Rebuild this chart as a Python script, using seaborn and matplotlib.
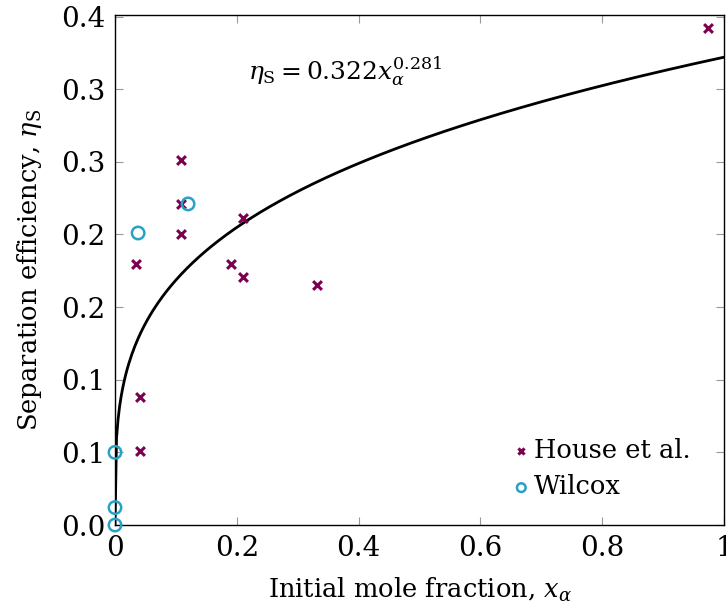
import numpy as np
import pandas as pd
import matplotlib.pyplot as plt
import seaborn as sns

# House et al. data
house_x = [0.973, 0.109, 0.109, 0.109, 0.035, 0.211, 0.191, 0.211, 0.331, 0.041, 0.041]
house_y = [0.342, 0.251, 0.221, 0.200, 0.180, 0.211, 0.180, 0.171, 0.165, 0.088, 0.051]

# Wilcox data
wilcox_x = [0.038, 0.120, 0.0, 0.0, 0.0]
wilcox_y = [0.201, 0.221, 0.050, 0.012, 0.0]

# fit: eta = a * x^b
fit_a = 0.322
fit_b = 0.281

x_ticks = [0, 0.2, 0.4, 0.6, 0.8, 1]
x_tick_labels = ['0', '0.2', '0.4', '0.6', '0.8', '1']
y_ticks = [0, 0.05, 0.1, 0.15, 0.2, 0.25, 0.3, 0.35]
y_tick_labels = ['0.0', '0.1', '0.1', '0.2', '0.2', '0.3', '0.3', '0.4']

purple = '#7d0050'
cyan = '#27a2c6'


def main():
    sns.set_style('ticks')
    plt.rcParams['font.family'] = ['DejaVu Serif']
    plt.rcParams['mathtext.fontset'] = 'dejavuserif'
    plt.rcParams['text.color'] = 'black'
    plt.rcParams['axes.labelcolor'] = 'black'
    plt.rcParams['xtick.labelcolor'] = 'black'
    plt.rcParams['ytick.labelcolor'] = 'black'

    house_df = pd.DataFrame({'x': house_x, 'y': house_y})
    wilcox_df = pd.DataFrame({'x': wilcox_x, 'y': wilcox_y})
    fit_x = np.linspace(0, 1, 400)
    fit_df = pd.DataFrame({'x': fit_x, 'y': fit_a * fit_x ** fit_b})

    fig = plt.figure(figsize=(7.26, 6.1), dpi=100)
    ax = fig.add_axes([0.1584, 0.1393, 0.8388, 0.836])

    sns.lineplot(x='x', y='y', data=fit_df, ax=ax, color='black', linewidth=2.0, zorder=2)
    sns.scatterplot(x='x', y='y', data=house_df, ax=ax, marker='x', color=purple,
                    s=40, linewidth=2.2, label='House et al.', zorder=3, clip_on=False)
    sns.scatterplot(x='x', y='y', data=wilcox_df, ax=ax, marker='o', facecolors='none',
                    edgecolor=cyan, s=80, linewidth=1.8, label='Wilcox', zorder=4, clip_on=False)

    ax.set_xlim(0, 1)
    ax.set_ylim(0, 0.351)
    ax.set_xticks(x_ticks)
    ax.set_xticklabels(x_tick_labels)
    ax.set_yticks(y_ticks)
    ax.set_yticklabels(y_tick_labels)
    ax.tick_params(direction='in', length=6, width=0.8, color='#999999',
                   top=True, right=True, labelsize=20, pad=7)
    for sp in ax.spines.values():
        sp.set_linewidth(1.0)
        sp.set_color('black')

    ax.set_xlabel(r'Initial mole fraction, $x_\alpha$', fontsize=18.5, labelpad=10)
    ax.set_ylabel(r'Separation efficiency, $\eta_\mathrm{S}$', fontsize=18.5, labelpad=12)

    ax.text(0.378, 0.312, r'$\eta_\mathrm{S} = 0.322 x_\alpha^{0.281}$', fontsize=18,
            ha='center', va='center')

    ax.legend(loc='lower right', bbox_to_anchor=(0.975, 0.015), frameon=False,
              fontsize=18.5, handletextpad=0.0, handlelength=1.0, borderpad=0.2,
              labelspacing=0.45, markerscale=0.7)

    fig.savefig('out.png', dpi=100)


if __name__ == "__main__":
    main()
